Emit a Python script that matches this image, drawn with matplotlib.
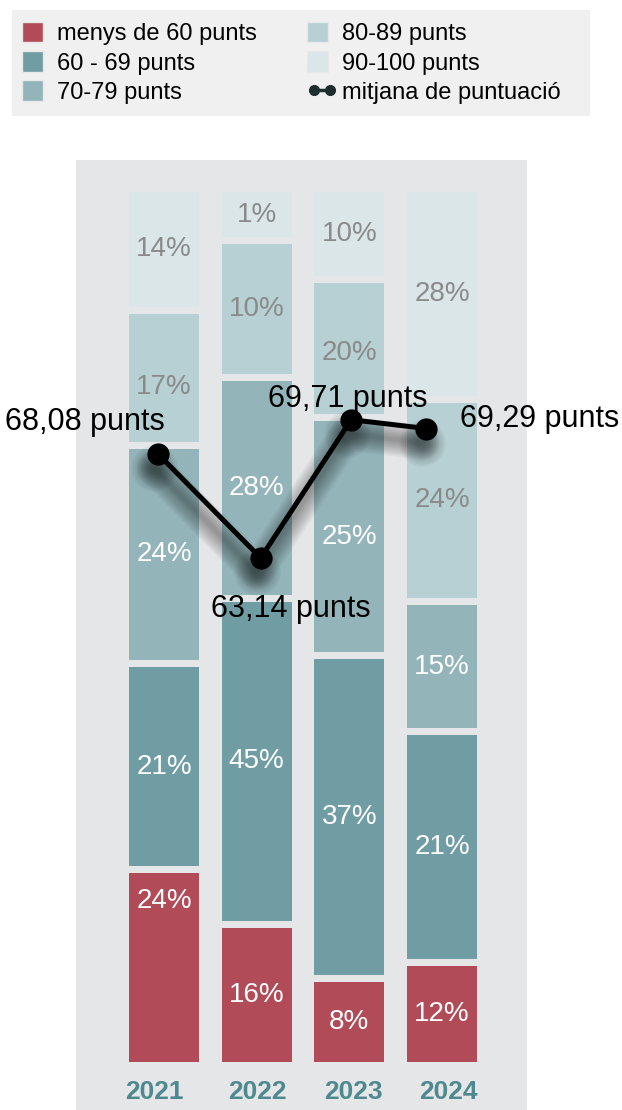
import matplotlib
matplotlib.use('Agg')
import matplotlib.pyplot as plt
from matplotlib.patches import Patch, Rectangle
from matplotlib.lines import Line2D
from matplotlib.legend_handler import HandlerPatch
from matplotlib.transforms import ScaledTranslation

# data
years = ['2021', '2022', '2023', '2024']
groups = ['menys de 60 punts', '60 - 69 punts', '70-79 punts', '80-89 punts', '90-100 punts']

pct_lt60 = [24, 16, 8, 12]
pct_60_69 = [21, 45, 37, 21]
pct_70_79 = [24, 28, 25, 15]
pct_80_89 = [17, 10, 20, 24]
pct_90_100 = [14, 1, 10, 28]

# heights of the blocks as drawn in the original graphic (they are not proportional)
h_lt60 = [22.1, 15.8, 9.6, 11.4]
h_60_69 = [23.7, 37.5, 37.1, 26.6]
h_70_79 = [25.1, 25.4, 27.4, 14.9]
h_80_89 = [15.5, 15.7, 15.9, 23.3]
h_90_100 = [13.6, 5.6, 10.0, 23.8]

avg = [68.08, 63.14, 69.71, 69.29]
avg_labels = ['68,08 punts', '63,14 punts', '69,71 punts', '69,29 punts']
line_x = [-0.065, 1.043, 2.02, 2.83]

colors = ['#b14b58', '#709ca3', '#93b4b9', '#b7d0d3', '#dae6e8']
text_colors = ['white', 'white', 'white', '#8a8a8a', '#8a8a8a']
panel = '#e5e6e8'

plt.rcParams['font.family'] = ['Liberation Sans', 'DejaVu Sans']


class SquareHandler(HandlerPatch):
    # square swatch at the left of a wider handle slot
    def create_artists(self, legend, orig_handle, xdescent, ydescent, width, height,
                       fontsize, trans):
        s = height * 1.15
        p = Rectangle((-xdescent, -ydescent - (s - height) / 2), s, s,
                      facecolor=orig_handle.get_facecolor(), edgecolor='#e8e8e8',
                      linewidth=1, transform=trans)
        return [p]


fig = plt.figure(figsize=(6.22, 11.10), dpi=100)
W, H = 622, 1110
ax = fig.add_axes([76 / W, 0, (527 - 76) / W, (1110 - 160) / H])
ax.set_facecolor(panel)
for s in ax.spines.values():
    s.set_visible(False)
ax.set_xticks([])
ax.set_yticks([])

px = 8.7  # pixels per unit of bar height
ax.set_xlim(-0.95, 3.917)
ax.set_ylim(-48 / px, 100 + 32 / px)

gap = 7 / px
bw = 0.755
heights = [h_lt60, h_60_69, h_70_79, h_80_89, h_90_100]
pcts = [pct_lt60, pct_60_69, pct_70_79, pct_80_89, pct_90_100]
nudge = [[7.7, 0, 0, 0], [0] * 4, [0] * 4, [-1.1, 0, -0.6, 0], [0] * 4]

x = list(range(len(years)))
cum = [0.0] * len(years)
for i, (hs, ps) in enumerate(zip(heights, pcts)):
    for j in x:
        lo = cum[j] + (gap / 2 if i > 0 else 0)
        hi = cum[j] + hs[j] - (gap / 2 if i < len(heights) - 1 else 0)
        ax.bar(j, hi - lo, bottom=lo, width=bw, color=colors[i], linewidth=0, zorder=2)
        ax.text(j, (lo + hi) / 2 + nudge[i][j], f'{ps[j]}%', ha='center', va='center',
                fontsize=20, color=text_colors[i], zorder=3)
        cum[j] += hs[j]

year_nudge = [-0.1, 0.01, 0.04, 0.07]
for j, yr in enumerate(years):
    ax.text(j + year_nudge[j], -30 / px, yr, ha='center', va='center', fontsize=19,
            fontweight='bold', color='#4f8990')

# average line on a second scale
ax2 = ax.twinx()
ax2.set_ylim(68.08 - (1110 - 454) / 21.05, 68.08 + (454 - 160) / 21.05)
ax2.set_yticks([])
for s in ax2.spines.values():
    s.set_visible(False)

off = ScaledTranslation(-0.04, -0.14, fig.dpi_scale_trans)
for k in range(10):
    ax2.plot(line_x, avg, color='black', lw=3 + k * 2.4, alpha=0.04,
             solid_capstyle='round', solid_joinstyle='round',
             transform=ax2.transData + off, zorder=3)
    ax2.plot(line_x, avg, linestyle='none', marker='o', ms=10 + k * 2.6, color='black',
             alpha=0.035, markeredgewidth=0, transform=ax2.transData + off, zorder=3)
ax2.plot(line_x, avg, color='black', lw=3.6, marker='o', ms=15, zorder=4)

lab_off = [(7, 24), (30, -59), (-3, 13), (34, 2)]
lab_ha = ['right', 'center', 'center', 'left']
for xv, v, t, o, ha in zip(line_x, avg, avg_labels, lab_off, lab_ha):
    ax2.annotate(t, (xv, v), xytext=o, textcoords='offset pixels', ha=ha, va='baseline',
                 fontsize=22, color='black', zorder=5)

# legend, on its own grey box
fig.patches.append(Rectangle((12 / W, 1 - 116 / H), 578 / W, 106 / H,
                             transform=fig.transFigure, facecolor='#f0f0f0',
                             edgecolor='none', zorder=0))
handles = [Patch(facecolor=c) for c in colors]
handles.append(Line2D([], [], color='#1e2d2d', lw=2.5, marker='o', ms=7))
labels = groups + ['mitjana de puntuació']
fig.legend(handles, labels, loc='upper left', ncol=2,
           bbox_to_anchor=(22 / W, 1 - 23 / H), frameon=False, fontsize=17,
           handlelength=1.3, handleheight=0.8, handletextpad=0.2, labelspacing=0.3,
           columnspacing=2.1, borderpad=0, borderaxespad=0, numpoints=2,
           handler_map={Patch: SquareHandler()})

fig.savefig('out.png', dpi=100)
